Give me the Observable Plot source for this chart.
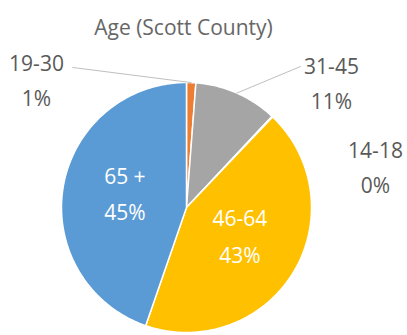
<!DOCTYPE html>
<html>
<head>
<meta charset="utf-8">
<script src="https://cdn.jsdelivr.net/npm/d3@7"></script>
<script src="https://cdn.jsdelivr.net/npm/@observablehq/plot@0.6"></script>
<style>
  html, body { margin: 0; padding: 0; background: #fff; }
  #chart svg { display: block; }
</style>
</head>
<body>
<div id="chart"></div>
<script>
// ---- data ----
const title = "Age (Scott County)";
const categories = ["19-30", "31-45", "14-18", "46-64", "65 +"];
const shares = [1.2, 10.8, 0.1, 43.2, 44.7];
const percentLabels = ["1%", "11%", "0%", "43%", "45%"];
const sliceColors = ["#ED7D31", "#A5A5A5", "#4472C4", "#FFC000", "#5B9BD5"];

// ---- layout config (label placement, in pie-radius units) ----
const outsideLabelAt = {"19-30": [-1.2, 1.04], "31-45": [1.16, 1.016], "14-18": [1.512, 0.344]};
const leaderStart = {"19-30": [-0.91, 1.12], "31-45": [0.912, 1.128]};
const insideRadius = 0.5;

// ---- geometry from values ----
const total = d3.sum(shares);
let acc = 0;
const slices = categories.map((c, i) => {
  const a0 = acc / total * 2 * Math.PI;
  acc += shares[i];
  const a1 = acc / total * 2 * Math.PI;
  return {cat: c, i, a0, a1, mid: (a0 + a1) / 2, pct: percentLabels[i], color: sliceColors[i]};
});
function slicePoints(s) {
  const n = Math.max(2, Math.ceil((s.a1 - s.a0) * 180 / Math.PI));
  const pts = [{x: 0, y: 0}];
  for (let k = 0; k <= n; k++) {
    const a = s.a0 + (s.a1 - s.a0) * k / n;
    pts.push({x: Math.sin(a), y: Math.cos(a)});
  }
  pts.push({x: 0, y: 0});
  return pts;
}

const inside = slices.filter(s => !(s.cat in outsideLabelAt)).map(s => ({
  x: insideRadius * Math.sin(s.mid), y: insideRadius * Math.cos(s.mid), text: s.cat + "\n" + s.pct
}));
const outside = slices.filter(s => s.cat in outsideLabelAt).map(s => ({
  x: outsideLabelAt[s.cat][0], y: outsideLabelAt[s.cat][1], text: s.cat + "\n" + s.pct
}));
const leaders = slices.filter(s => s.cat in leaderStart).flatMap(s => [
  {cat: s.cat, x: leaderStart[s.cat][0], y: leaderStart[s.cat][1]},
  {cat: s.cat, x: Math.sin(s.mid), y: Math.cos(s.mid)}
]);

const font = "'Open Sans', 'Noto Sans', sans-serif";

const chart = Plot.plot({
  width: 407,
  height: 335,
  marginLeft: 61,
  marginRight: 96,
  marginTop: 82,
  marginBottom: 3,
  x: {domain: [-1, 1], axis: null},
  y: {domain: [-1, 1], axis: null},
  style: {background: "#fff", fontFamily: font},
  marks: [
    ...slices.map(s => Plot.line(slicePoints(s), {
      x: "x", y: "y", fill: s.color, stroke: "#fff", strokeWidth: 1.5, strokeLinejoin: "round"
    })),
    Plot.line(leaders, {x: "x", y: "y", z: "cat", stroke: "#BFBFBF", strokeWidth: 1}),
    Plot.text(inside, {x: "x", y: "y", text: "text", fill: "#fff", fontSize: 21, lineHeight: 1.72, dy: -7}),
    Plot.text(outside, {x: "x", y: "y", text: "text", fill: "#595959", fontSize: 21, lineHeight: 1.68}),
    Plot.text([title], {frameAnchor: "top", dx: -3, dy: -62, fill: "#666666", fontSize: 21})
  ]
});
document.getElementById("chart").appendChild(chart);
</script>
</body>
</html>
